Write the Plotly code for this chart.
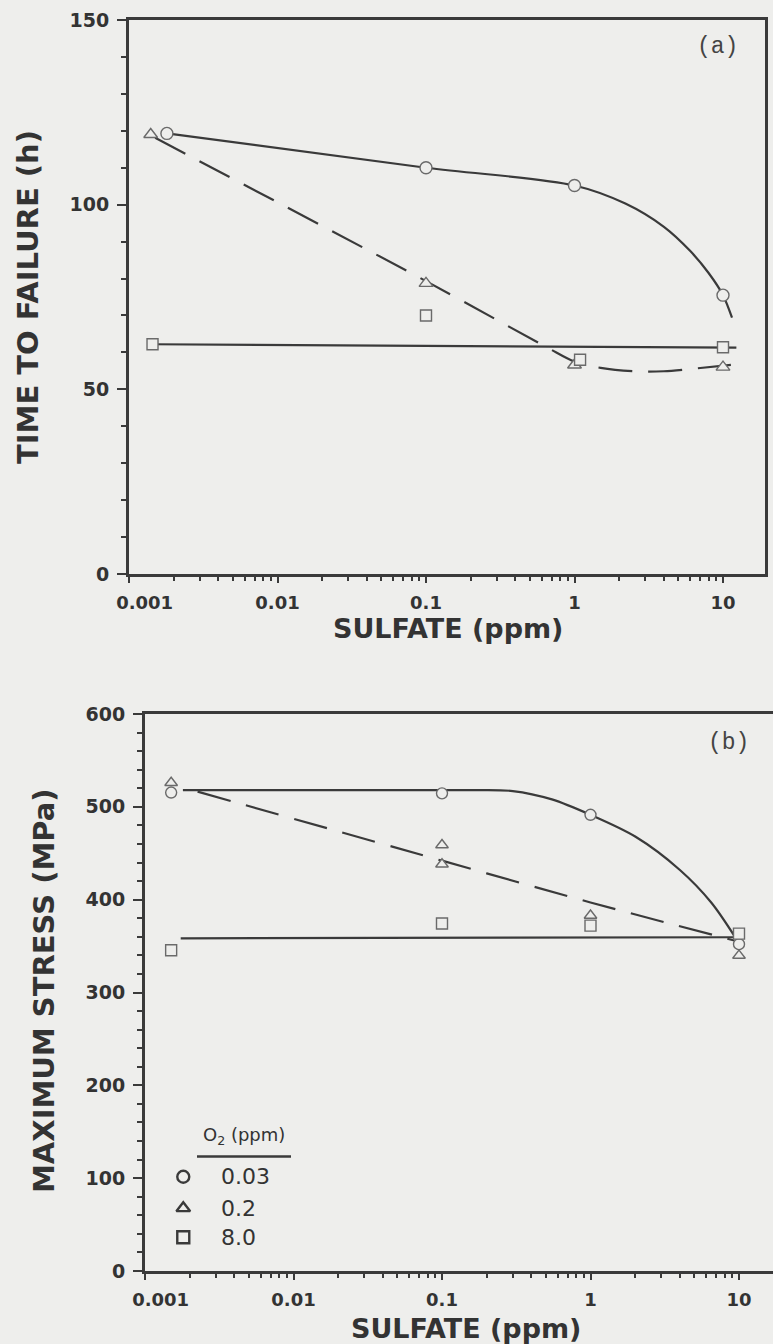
import plotly.graph_objects as go

# ---------------- Panel (a): time to failure vs sulfate ----------------
# measured points, one list per dissolved-oxygen level (ppm O2)
a_o2_003_x = [0.0018, 0.1, 1.0, 10.0]
a_o2_003_y = [119.3, 110.0, 105.2, 75.5]
a_o2_02_x = [0.0014, 0.1, 1.0, 10.0]
a_o2_02_y = [119.0, 78.7, 56.6, 56.0]
a_o2_8_x = [0.00144, 0.1, 1.09, 10.0]
a_o2_8_y = [62.2, 70.0, 58.0, 61.4]

# hand-drawn trend curves (knots)
a_fit_003_x = [0.0018, 0.1, 1.0, 2.2, 4.0, 6.0, 8.0, 10.0, 11.5]
a_fit_003_y = [119.3, 110.0, 105.2, 100.3, 94.0, 87.5, 81.5, 75.5, 69.4]
a_fit_02_x = [0.0015, 0.1, 0.65, 1.0, 1.5, 2.5, 4.0, 6.0, 11.3]
a_fit_02_y = [118.1, 79.3, 61.4, 57.5, 55.8, 54.9, 54.9, 55.5, 56.6]
a_fit_8_x = [0.00144, 12.3]
a_fit_8_y = [62.2, 61.3]

# ---------------- Panel (b): maximum stress vs sulfate ----------------
b_o2_003_x = [0.0015, 0.1, 1.0, 10.0]
b_o2_003_y = [515.4, 514.5, 491.4, 352.0]
b_o2_02_x = [0.0015, 0.1, 0.1, 1.0, 10.0]
b_o2_02_y = [526.0, 458.9, 438.2, 383.0, 339.8]
b_o2_8_x = [0.0015, 0.1, 1.0, 10.0]
b_o2_8_y = [345.5, 374.4, 372.0, 363.4]

b_fit_003_x = [0.0018, 0.15, 0.3, 0.55, 1.0, 2.0, 4.0, 6.5, 9.4]
b_fit_003_y = [518.0, 518.0, 517.0, 508.0, 491.4, 468.0, 432.0, 397.0, 359.9]
b_fit_02_x = [0.00226, 0.1, 1.0, 9.3]
b_fit_02_y = [516.4, 442.0, 397.0, 356.0]
b_fit_8_x = [0.00174, 9.4]
b_fit_8_y = [358.4, 359.5]

# axis ticks and legend labels
x_tickvals = [0.001, 0.01, 0.1, 1, 10]
x_ticktext = ["\u00a0" * 5 + "0.001", "0.01", "0.1", "1", "10"]
a_y_ticks = [0, 50, 100, 150]
b_y_ticks = [0, 100, 200, 300, 400, 500, 600]
o2_labels = ["0.03", "0.2", "8.0"]

BG = "#eeeeec"
INK = "#3a3a3a"
MARK = "#6a6a6a"
W, H = 773, 1344

fig = go.Figure()

def curve(x, y, xa, ya, dash="solid"):
    fig.add_trace(go.Scatter(
        x=x, y=y, xaxis=xa, yaxis=ya, mode="lines",
        line=dict(color=INK, width=2.2, dash=dash, shape="spline", smoothing=0.9),
        showlegend=False, hoverinfo="skip"))

def points(x, y, xa, ya, symbol, size=12):
    fig.add_trace(go.Scatter(
        x=x, y=y, xaxis=xa, yaxis=ya, mode="markers",
        marker=dict(symbol=symbol, size=size, color=BG,
                    line=dict(color=MARK, width=1.4)),
        showlegend=False))

DASH = "34px,16px"

# panel (a)
curve(a_fit_003_x, a_fit_003_y, "x", "y")
curve(a_fit_02_x, a_fit_02_y, "x", "y", DASH)
curve(a_fit_8_x, a_fit_8_y, "x", "y")
points(a_o2_003_x, a_o2_003_y, "x", "y", "circle", 12)
points(a_o2_02_x, a_o2_02_y, "x", "y", "triangle-up", 12)
points(a_o2_8_x, a_o2_8_y, "x", "y", "square", 11)

# panel (b)
curve(b_fit_003_x, b_fit_003_y, "x2", "y2")
curve(b_fit_02_x, b_fit_02_y, "x2", "y2", DASH)
curve(b_fit_8_x, b_fit_8_y, "x2", "y2")
points(b_o2_003_x, b_o2_003_y, "x2", "y2", "circle", 11)
points(b_o2_02_x, b_o2_02_y, "x2", "y2", "triangle-up", 11)
points(b_o2_8_x, b_o2_8_y, "x2", "y2", "square", 11)

# legend key symbols inside panel (b)
KEY_X = 0.00181
for sym, ky in zip(["circle-open", "triangle-up-open", "square-open"], [101.5, 67.7, 36.3]):
    fig.add_trace(go.Scatter(
        x=[KEY_X], y=[ky], xaxis="x2", yaxis="y2", mode="markers",
        marker=dict(symbol=sym, size=12, color=INK, line=dict(color=INK, width=2.4)),
        showlegend=False, hoverinfo="skip"))

xtick_font = dict(family="DejaVu Sans", size=18, color="#333", weight="bold")
ytick_font = dict(family="DejaVu Sans", size=19, color="#333", weight="bold")
minor_log = [m * 10 ** e for e in range(-3, 2) for m in range(2, 10)]

def xaxis(domain, rng, anchor):
    return dict(type="log", domain=domain, range=rng, anchor=anchor,
                tickvals=x_tickvals, ticktext=x_ticktext, tickfont=xtick_font,
                showline=True, linecolor=INK, linewidth=3, mirror=True,
                ticks="outside", ticklen=6, tickwidth=2, tickcolor=INK,
                ticklabelstandoff=4, automargin=False,
                minor=dict(tickvals=minor_log, ticks="outside", ticklen=4,
                           tickwidth=1.5, tickcolor=INK),
                showgrid=False, zeroline=False)

def yaxis(domain, rng, anchor, ticks, minor_dt):
    return dict(domain=domain, range=rng, anchor=anchor,
                tickvals=ticks, tickfont=ytick_font,
                showline=True, linecolor=INK, linewidth=3, mirror=True,
                ticks="outside", ticklen=9, tickwidth=2, tickcolor=INK,
                ticklabelstandoff=4, automargin=False,
                minor=dict(dtick=minor_dt, ticks="outside", ticklen=5,
                           tickwidth=1.5, tickcolor=INK),
                showgrid=False, zeroline=False)

fig.update_layout(
    width=W, height=H,
    margin=dict(l=0, r=0, t=0, b=0, autoexpand=False),
    paper_bgcolor=BG, plot_bgcolor=BG,
    showlegend=False,
    xaxis=xaxis([129 / W, 765 / W], [-3, -3 + (765 - 129) / 148.5], "y"),
    yaxis=yaxis([1 - 574 / H, 1 - 20 / H], [0, 150], "x", a_y_ticks, 10),
    xaxis2=xaxis([145 / W, 1.0], [-3, -3 + (773 - 145) / 148.5], "y2"),
    yaxis2=yaxis([1 - 1271 / H, 1 - 714 / H], [0, 600], "x2", b_y_ticks, 20),
)

title_font = dict(family="DejaVu Sans", size=29, color="#333", weight="bold")
xt_font = dict(family="DejaVu Sans", size=27, color="#333", weight="bold")
anns = [
    dict(text="TIME TO FAILURE (h)", x=28 / W, y=1 - 297 / H, textangle=-90, font=title_font),
    dict(text="MAXIMUM STRESS (MPa)", x=44 / W, y=1 - 991 / H, textangle=-90, font=title_font),
    dict(text="SULFATE (ppm)", x=448 / W, y=1 - 628 / H, font=xt_font),
    dict(text="SULFATE (ppm)", x=466 / W, y=1 - 1328 / H, font=xt_font),
    dict(text="(a)", x=717 / W, y=1 - 47 / H, font=dict(family="Liberation Mono", size=23, color="#444")),
    dict(text="(b)", x=728 / W, y=1 - 743 / H, font=dict(family="Liberation Mono", size=23, color="#444")),
    dict(text="O<sub>2</sub> (ppm)", x=244 / W, y=1 - 1136 / H,
         font=dict(family="DejaVu Sans", size=18, color="#333")),
]
for lab, py in zip(o2_labels, [1176.6, 1208.0, 1237.2]):
    anns.append(dict(text=lab, x=219 / W, y=1 - py / H, xanchor="left",
                     font=dict(family="DejaVu Sans", size=22, color="#333")))
for a in anns:
    a.setdefault("xanchor", "center")
    a.update(xref="paper", yref="paper", yanchor="middle", showarrow=False)
fig.update_layout(annotations=anns)

fig.add_shape(type="line", xref="paper", yref="paper",
              x0=197 / W, x1=291 / W, y0=1 - 1156.4 / H, y1=1 - 1156.4 / H,
              line=dict(color=INK, width=2.5))

fig.write_html("out.html")
